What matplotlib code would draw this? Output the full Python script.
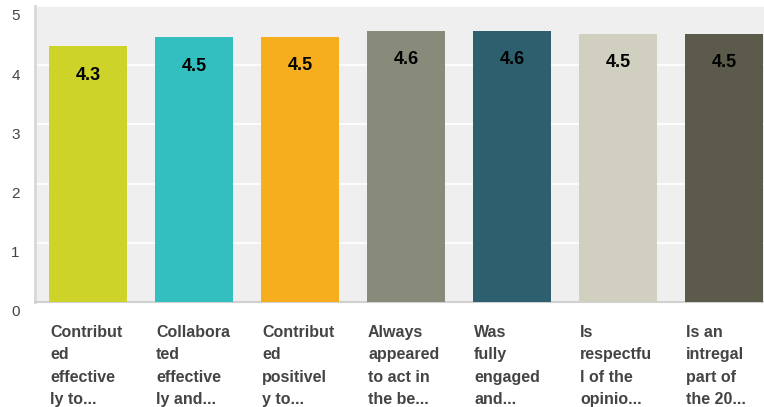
import matplotlib
matplotlib.use("Agg")
import matplotlib.pyplot as plt
import matplotlib.transforms as mtransforms

categories = [
    "Contribut\ned\neffective\nly to...",
    "Collabora\nted\neffective\nly and...",
    "Contribut\ned\npositivel\ny to...",
    "Always\nappeared\nto act in\nthe be...",
    "Was\nfully\nengaged\nand...",
    "Is\nrespectfu\nl of the\nopinio...",
    "Is an\nintregal\npart of\nthe 20...",
]
values = [4.32, 4.47, 4.48, 4.58, 4.58, 4.53, 4.53]
value_labels = ["4.3", "4.5", "4.5", "4.6", "4.6", "4.5", "4.5"]
colors = ["#ced32a", "#33bec0", "#f6ae1e", "#888a7a", "#2e5f6e", "#d0cfc0", "#5c5a4b"]
yticks = [0, 1, 2, 3, 4, 5]

plt.rcParams['font.family'] = ['Liberation Sans', 'DejaVu Sans']

W, H = 764, 407
fig = plt.figure(figsize=(W / 100, H / 100), dpi=100)
left, right, bottom, top = 35, 764, 302, 6
ax = fig.add_axes([left / W, (H - bottom) / H, (right - left) / W, (bottom - top) / H])
ax.set_facecolor("#efefef")

bw = 0.736
x = list(range(len(values)))
ax.bar(x, values, width=bw, color=colors, zorder=3)

ax.set_ylim(0, 5)
ax.set_xlim(-0.5, (right - left) / 106 - 0.5)
ax.set_yticks(yticks)
ax.set_yticklabels([str(t) for t in yticks])
ax.yaxis.grid(True, color="white", linewidth=1.2, zorder=1)
ax.xaxis.grid(False)
ax.set_xticks([])
ax.tick_params(axis="y", length=0, pad=11, labelsize=11, labelcolor="#444444")
offset = mtransforms.ScaledTranslation(0, -9 / 100, fig.dpi_scale_trans)
for lab in ax.get_yticklabels():
    lab.set_transform(lab.get_transform() + offset)

for s in ["top", "right"]:
    ax.spines[s].set_visible(False)
ax.spines["left"].set_color("#d8d8d8")
ax.spines["left"].set_linewidth(2)
ax.spines["bottom"].set_color("#d0d0d0")
ax.spines["bottom"].set_linewidth(1.5)

for xi, v, lab in zip(x, values, value_labels):
    ax.annotate(lab, xy=(xi, v), xytext=(0, -29 * 0.72), textcoords="offset points",
                ha="center", va="center", fontsize=13, fontweight="bold",
                color="black", zorder=4)

trans = mtransforms.blended_transform_factory(ax.transData, fig.transFigure)
for xi, cat in zip(x, categories):
    ax.text(xi - bw / 2 + 0.01, (H - 325) / H, cat, transform=trans, ha="left", va="top",
            fontsize=11.5, fontweight="bold", color="#444444", linespacing=1.62,
            multialignment="left", clip_on=False)

fig.savefig("out.png", dpi=100)
